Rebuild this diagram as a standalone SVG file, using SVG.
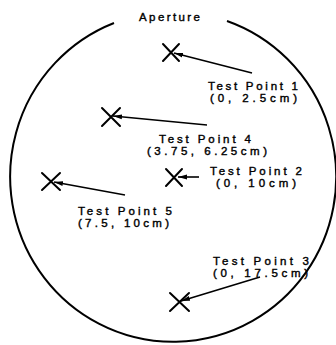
<svg xmlns="http://www.w3.org/2000/svg" width="336" height="345" viewBox="0 0 336 345">
<style>
.t{font-family:"Liberation Sans",Arial,sans-serif;font-size:11.5px;fill:#000;stroke:#000;stroke-width:0.4}
.x{stroke:#000;stroke-width:2;fill:none;stroke-linecap:round}
.c{stroke:#000;stroke-width:1.6;fill:none}
.o{stroke:#000;stroke-width:2;fill:none}
</style>
<defs>
<marker id="ah" markerUnits="userSpaceOnUse" markerWidth="10" markerHeight="6" refX="9" refY="3" orient="auto">
<path d="M0,0.6 L9,3 L0,5.4 Z" fill="#000"/>
</marker>
</defs>
<g id="outline">
<path class="o" d="M 227 21 A 163 165 0 1 1 114 23"/>
<text class="t" x="139" y="20.5" textLength="61" lengthAdjust="spacing">Aperture</text>
</g>
<g id="tp1">
<path class="x" d="M163,44 L179,61 M179,44 L163,61"/>
<text class="t" x="208" y="90" textLength="90" lengthAdjust="spacing">Test Point 1</text>
<text class="t" x="210" y="102" textLength="87" lengthAdjust="spacing">(0, 2.5cm)</text>
</g>
<g id="tp4">
<path class="x" d="M102,108 L120,126 M120,108 L102,126"/>
<text class="t" x="159" y="143" textLength="92" lengthAdjust="spacing">Test Point 4</text>
<text class="t" x="147" y="154.5" textLength="120" lengthAdjust="spacing">(3.75, 6.25cm)</text>
</g>
<g id="tp2">
<path class="x" d="M166,169 L182,186 M182,169 L166,186"/>
<text class="t" x="210" y="175" textLength="92" lengthAdjust="spacing">Test Point 2</text>
<text class="t" x="216" y="187" textLength="80" lengthAdjust="spacing">(0, 10cm)</text>
</g>
<g id="tp5">
<path class="x" d="M42,173 L60,190 M60,173 L42,190"/>
<text class="t" x="78" y="214.5" textLength="94" lengthAdjust="spacing">Test Point 5</text>
<text class="t" x="78" y="226.5" textLength="91" lengthAdjust="spacing">(7.5, 10cm)</text>
</g>
<g id="tp3">
<path class="x" d="M170,293 L189,311 M189,293 L170,311"/>
<text class="t" x="213" y="264.5" textLength="96" lengthAdjust="spacing">Test Point 3</text>
<text class="t" x="213" y="276.5" textLength="95" lengthAdjust="spacing">(0, 17.5cm)</text>
</g>
<g id="connectors">
<line class="c" x1="252" y1="73" x2="174" y2="53" marker-end="url(#ah)"/>
<line class="c" x1="207" y1="125" x2="113" y2="116" marker-end="url(#ah)"/>
<line class="c" x1="199" y1="177" x2="178" y2="177" marker-end="url(#ah)"/>
<line class="c" x1="125" y1="195" x2="54" y2="182" marker-end="url(#ah)"/>
<line class="c" x1="260" y1="277" x2="181" y2="301" marker-end="url(#ah)"/>
</g>
</svg>
